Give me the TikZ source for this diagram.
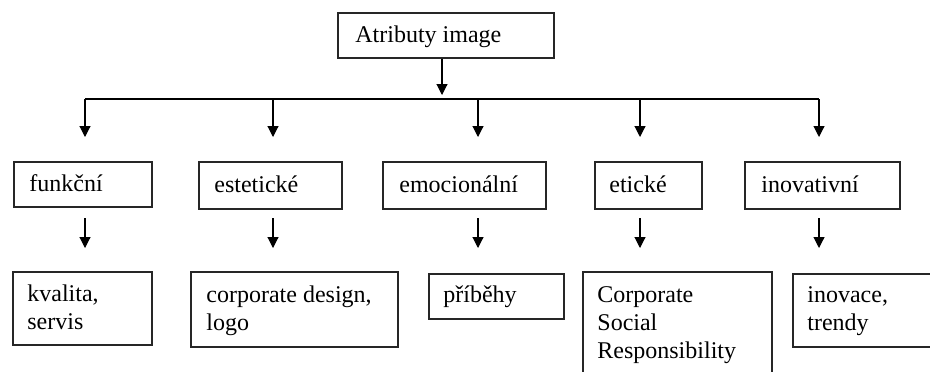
\documentclass[tikz,border=0pt]{standalone}
\usepackage{fontspec}
\setmainfont{Liberation Serif}
\usetikzlibrary{arrows.meta,calc}
\begin{document}
\begin{tikzpicture}[x=0.5pt,y=-0.5pt,
  every node/.style={font=\fontsize{12}{14}\selectfont},
  box/.style={draw=black!85, line width=0.75pt, rectangle, inner sep=0pt, anchor=north west},
  txt/.style={anchor=base west, inner sep=0pt},
  conn/.style={line width=0.55pt, -{Triangle[width=5.5pt,length=5.5pt]}},
  busline/.style={line width=0.75pt}]
\useasboundingbox (0,0) rectangle (930,371);
\clip (0,0) rectangle (930,371);
% boxes
\node[box, minimum width=108pt, minimum height=22.5pt] (top) at (337,12) {};
\node[box, minimum width=69pt,   minimum height=22.5pt] (f1) at (13,161) {};
\node[box, minimum width=71.5pt, minimum height=23.5pt] (f2) at (198,161) {};
\node[box, minimum width=81.5pt, minimum height=23.5pt] (f3) at (382,161) {};
\node[box, minimum width=53.5pt, minimum height=23.5pt] (f4) at (594,161) {};
\node[box, minimum width=77.5pt, minimum height=23.5pt] (f5) at (744,161) {};
\node[box, minimum width=69.5pt,  minimum height=36.5pt] (b1) at (12,271) {};
\node[box, minimum width=103.5pt, minimum height=37.5pt] (b2) at (190,271) {};
\node[box, minimum width=67.5pt,  minimum height=22.5pt] (b3) at (428,273) {};
\node[box, minimum width=94.5pt,  minimum height=57pt]   (b4) at (582,271) {};
\node[box, minimum width=76.5pt,  minimum height=36.5pt] (b5) at (792,273) {};
% texts
\node[txt] (topt) at ($(top.north west)+(18,30)$) {Atributy image};
\node[txt] (f1t) at ($(f1.north west)+(16,30)$) {funkční};
\node[txt] (f2t) at ($(f2.north west)+(16,31)$) {estetické};
\node[txt] (f3t) at ($(f3.north west)+(17,31)$) {emocionální};
\node[txt] (f4t) at ($(f4.north west)+(15,31)$) {etické};
\node[txt] (f5t) at ($(f5.north west)+(17,31)$) {inovativní};
\node[txt] (b1t) at ($(b1.north west)+(15,30)$) {\begin{tabular}[t]{@{}l@{}}kvalita,\\servis\end{tabular}};
\node[txt] (b2t) at ($(b2.north west)+(16,31)$) {\begin{tabular}[t]{@{}l@{}}corporate design,\\logo\end{tabular}};
\node[txt] (b3t) at ($(b3.north west)+(15,29)$) {příběhy};
\node[txt] (b4t) at ($(b4.north west)+(15,31)$) {\begin{tabular}[t]{@{}l@{}}Corporate\\Social\\Responsibility\end{tabular}};
\node[txt] (b5t) at ($(b5.north west)+(15,29)$) {\begin{tabular}[t]{@{}l@{}}inovace,\\trendy\end{tabular}};
% coordinates
\coordinate (topend) at (442,95);
\coordinate (busL) at (85,99);
\coordinate (busR) at (819,99);
\foreach \i/\x in {1/85,2/273,3/478,4/640,5/819}{
  \coordinate (h\i) at (\x,99);
  \coordinate (a\i) at (\x,137);
  \coordinate (s\i) at (\x,218);
  \coordinate (e\i) at (\x,248);
}
% connectors
\draw[conn] (top.south -| topend) -- (topend);
\draw[busline] (busL) -- (busR);
\foreach \i in {1,...,5}{
  \draw[conn] (h\i) -- (a\i);
  \draw[conn] (s\i) -- (e\i);
}
\end{tikzpicture}
\end{document}
